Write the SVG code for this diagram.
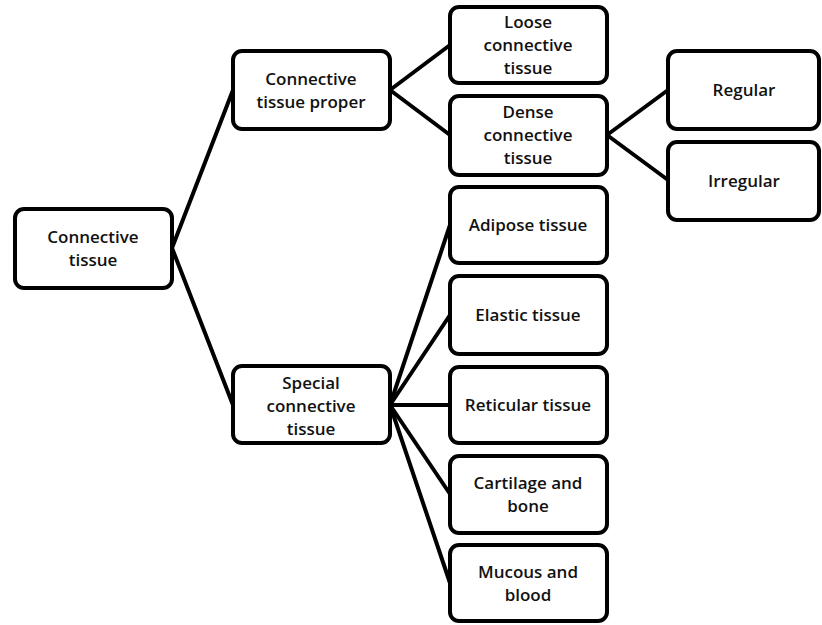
<svg xmlns="http://www.w3.org/2000/svg" width="822" height="625" viewBox="0 0 822 625">
<style>
.box{fill:#fff;stroke:#000;stroke-width:4}
.t{font-family:"Open Sans","Liberation Sans",sans-serif;font-size:17px;font-weight:600;fill:#111;text-anchor:middle}
.c{stroke:#000;stroke-width:4;fill:none;stroke-linecap:round}
</style>
<rect width="822" height="625" fill="#fff"/>
<g id="connectors">
<line class="c" x1="172" y1="248" x2="233" y2="90"/>
<line class="c" x1="172" y1="248" x2="233" y2="405"/>
<line class="c" x1="390" y1="90" x2="450" y2="45"/>
<line class="c" x1="390" y1="90" x2="450" y2="135"/>
<line class="c" x1="607" y1="135" x2="668" y2="90"/>
<line class="c" x1="607" y1="135" x2="668" y2="180"/>
<line class="c" x1="390" y1="405" x2="450" y2="225"/>
<line class="c" x1="390" y1="405" x2="450" y2="315"/>
<line class="c" x1="390" y1="405" x2="450" y2="405"/>
<line class="c" x1="390" y1="405" x2="450" y2="494"/>
<line class="c" x1="390" y1="405" x2="450" y2="583"/>
</g>
<g id="connective-tissue"><rect class="box" x="15" y="209" width="157" height="79" rx="9"/><text class="t" x="93" y="243">Connective</text><text class="t" x="93" y="266">tissue</text></g>
<g id="connective-tissue-proper"><rect class="box" x="233" y="51" width="157" height="78" rx="9"/><text class="t" x="311" y="85">Connective</text><text class="t" x="311" y="108">tissue proper</text></g>
<g id="special"><rect class="box" x="233" y="366" width="157" height="77" rx="9"/><text class="t" x="311" y="389">Special</text><text class="t" x="311" y="412">connective</text><text class="t" x="311" y="435">tissue</text></g>
<g id="loose"><rect class="box" x="450" y="7" width="157" height="76" rx="9"/><text class="t" x="528" y="28">Loose</text><text class="t" x="528" y="51">connective</text><text class="t" x="528" y="74">tissue</text></g>
<g id="dense"><rect class="box" x="450" y="96" width="157" height="79" rx="9"/><text class="t" x="528" y="118">Dense</text><text class="t" x="528" y="141">connective</text><text class="t" x="528" y="164">tissue</text></g>
<g id="regular"><rect class="box" x="668" y="51" width="151" height="78" rx="9"/><text class="t" x="744" y="96">Regular</text></g>
<g id="irregular"><rect class="box" x="668" y="142" width="151" height="78" rx="9"/><text class="t" x="744" y="187">Irregular</text></g>
<g id="adipose"><rect class="box" x="450" y="187" width="157" height="76" rx="9"/><text class="t" x="528" y="231">Adipose tissue</text></g>
<g id="elastic"><rect class="box" x="450" y="276" width="157" height="78" rx="9"/><text class="t" x="528" y="321">Elastic tissue</text></g>
<g id="reticular"><rect class="box" x="450" y="367" width="157" height="76" rx="9"/><text class="t" x="528" y="411">Reticular tissue</text></g>
<g id="cartilage"><rect class="box" x="450" y="456" width="157" height="77" rx="9"/><text class="t" x="528" y="489">Cartilage and</text><text class="t" x="528" y="512">bone</text></g>
<g id="mucous"><rect class="box" x="450" y="545" width="157" height="76" rx="9"/><text class="t" x="528" y="578">Mucous and</text><text class="t" x="528" y="601">blood</text></g>
</svg>
